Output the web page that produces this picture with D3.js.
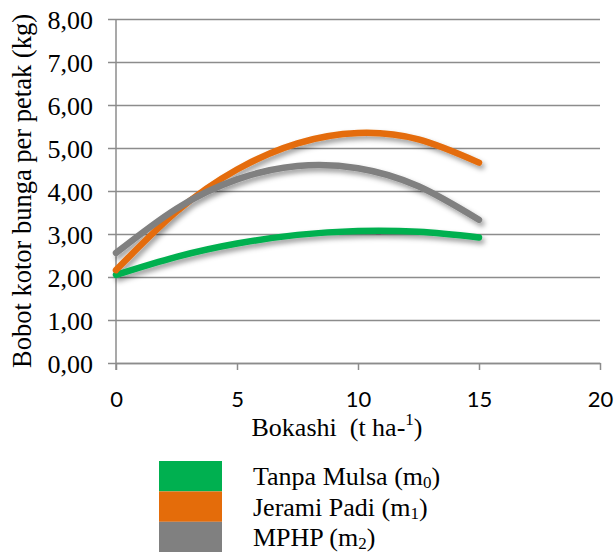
<!DOCTYPE html>
<html>
<head>
<meta charset="utf-8">
<script src="https://cdn.jsdelivr.net/npm/d3@7"></script>
<style>
  html, body { margin: 0; padding: 0; background: #fff; }
  svg { display: block; }
</style>
</head>
<body>
<svg id="chart" width="615" height="552"></svg>
<script>
// ---- data ----
const bokashi = [0, 2.5, 5, 7.5, 10, 12.5, 15];
const tanpaMulsa = [2.05, 2.47, 2.78, 2.98, 3.07, 3.05, 2.92];
const jeramiPadi = [2.16, 3.52, 4.50, 5.11, 5.35, 5.20, 4.66];
const mphp = [2.56, 3.59, 4.27, 4.58, 4.53, 4.11, 3.33];
const yTicks = [0, 1, 2, 3, 4, 5, 6, 7, 8];
const xTicks = [0, 5, 10, 15, 20];
const seriesNames = ["Tanpa Mulsa", "Jerami Padi", "MPHP"];
const seriesSubs = ["0", "1", "2"];
const seriesColors = ["#00b050", "#e46c0a", "#808080"];

const series = [tanpaMulsa, jeramiPadi, mphp].map((vals, i) => ({
  name: seriesNames[i], sub: seriesSubs[i], color: seriesColors[i],
  points: bokashi.map((x, j) => ({ x, y: vals[j] }))
}));

const svg = d3.select("#chart");
const serif = "Liberation Serif";
const sans = "Lato";

const x = d3.scaleLinear().domain([0, 20]).range([116, 600]);
const y = d3.scaleLinear().domain([0, 8]).range([363, 19]);

// drop shadow filter
const defs = svg.append("defs");
const f = defs.append("filter").attr("id", "shadow")
  .attr("x", "-10%").attr("y", "-20%").attr("width", "130%").attr("height", "150%");
f.append("feDropShadow").attr("dx", 2.5).attr("dy", 3.5)
  .attr("stdDeviation", 2.4).attr("flood-color", "#000").attr("flood-opacity", 0.38);

// gridlines + y axis ticks
const yAxis = d3.axisLeft(y).tickValues(yTicks)
  .tickSize(-(600 - 116 + 8)).tickSizeOuter(0)
  .tickFormat(d => d3.format(".2f")(d).replace(".", ","));
const gy = svg.append("g").attr("transform", "translate(108,0)").call(yAxis);
gy.attr("font-family", null).attr("font-size", null);
gy.select(".domain").remove();
gy.selectAll(".tick line").attr("stroke", "#8c8c8c").attr("stroke-width", 1.5);
gy.selectAll(".tick text").attr("x", -15).attr("dy", "0.36em")
  .style("font-family", serif).style("font-size", "26px").attr("fill", "#000");

// y axis line
svg.append("line").attr("x1", 116).attr("x2", 116).attr("y1", 19).attr("y2", 370)
  .attr("stroke", "#8c8c8c").attr("stroke-width", 1.5);

// x axis
const xAxis = d3.axisBottom(x).tickValues(xTicks).tickSize(7).tickSizeOuter(0)
  .tickFormat(d3.format("d"));
const gx = svg.append("g").attr("transform", "translate(0,363)").call(xAxis);
gx.attr("font-family", null).attr("font-size", null);
gx.select(".domain").attr("stroke", "#8c8c8c").attr("stroke-width", 1.5);
gx.selectAll(".tick line").attr("stroke", "#8c8c8c").attr("stroke-width", 1.5);
gx.selectAll(".tick text").attr("y", 44).attr("dy", 0)
  .style("font-family", sans).style("font-size", "22px").attr("fill", "#000");

// lines
const line = d3.line().x(d => x(d.x)).y(d => y(d.y)).curve(d3.curveNatural);
svg.append("g").attr("filter", "url(#shadow)")
  .selectAll("path").data(series).join("path")
  .attr("d", d => line(d.points))
  .attr("fill", "none").attr("stroke", d => d.color)
  .attr("stroke-width", 6.5).attr("stroke-linecap", "round");

// y title
svg.append("text")
  .attr("transform", "translate(31,191) rotate(-90)")
  .attr("text-anchor", "middle")
  .style("font-family", serif).style("font-size", "26.5px").attr("fill", "#000")
  .text("Bobot kotor bunga per petak (kg)");

// x title
const xt = svg.append("text").attr("x", 337).attr("y", 436).attr("text-anchor", "middle")
  .style("font-family", serif).style("font-size", "26px").style("white-space", "pre")
  .attr("fill", "#000");
xt.append("tspan").text("Bokashi  (t ha-");
xt.append("tspan").attr("dy", -11).style("font-size", "17px").text("1");
xt.append("tspan").attr("dy", 11).text(")");

// legend
const lg = svg.append("g");
series.forEach((s, i) => {
  lg.append("rect").attr("x", 159).attr("y", 461 + i * 30.4)
    .attr("width", 63).attr("height", 30.4).attr("fill", s.color);
  const t = lg.append("text").attr("x", 253).attr("y", 485 + i * 30.5)
    .style("font-family", serif).style("font-size", "26px").attr("fill", "#000");
  t.append("tspan").text(s.name + " (m");
  t.append("tspan").attr("dy", 3).style("font-size", "17px").text(s.sub);
  t.append("tspan").attr("dy", -3).text(")");
});
</script>
</body>
</html>
